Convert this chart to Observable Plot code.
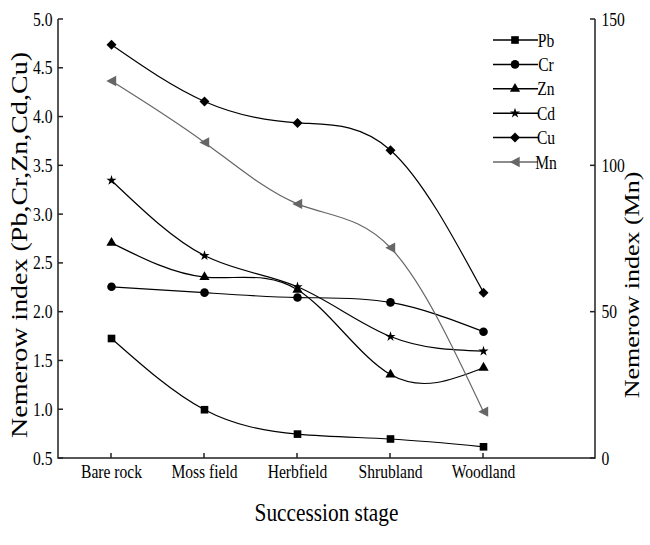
<!DOCTYPE html>
<html><head><meta charset="utf-8">
<script src="https://cdn.jsdelivr.net/npm/d3@7"></script>
<script src="https://cdn.jsdelivr.net/npm/@observablehq/plot@0.6"></script>
<style>body{margin:0;background:#fff}</style>
</head><body><div id="chart"></div>
<script>
// ---- data ----
const stages = ["Bare rock", "Moss field", "Herbfield", "Shrubland", "Woodland"];
const Pb = [1.73, 1.00, 0.75, 0.70, 0.62];
const Cr = [2.26, 2.20, 2.15, 2.10, 1.80];
const Zn = [2.71, 2.36, 2.23, 1.36, 1.43];
const Cd = [3.35, 2.58, 2.26, 1.75, 1.60];
const Cu = [4.74, 4.16, 3.94, 3.66, 2.20];
const Mn = [129, 108, 87, 72, 16];
const leftTicks = [0.5, 1.0, 1.5, 2.0, 2.5, 3.0, 3.5, 4.0, 4.5, 5.0];
const rightTicks = [0, 50, 100, 150];
const seriesNames = ["Pb", "Cr", "Zn", "Cd", "Cu", "Mn"];
const xTitle = "Succession stage";
const yTitle = "Nemerow index (Pb,Cr,Zn,Cd,Cu)";
const y2Title = "Nemerow index (Mn)";

// ---- setup ----
const W = 650, H = 545;
const mL = 58, mR = 55, mT = 19, mB = 87;
const SQ = 0.82; // horizontal squeeze of the original lettering
const font = "'Liberation Serif', 'Times New Roman', serif";
const yMin = leftTicks[0], yMax = leftTicks[leftTicks.length - 1];
const mnMin = rightTicks[0], mnMax = rightTicks[rightTicks.length - 1];
const toLeft = v => yMin + (v - mnMin) * (yMax - yMin) / (mnMax - mnMin);
const fromLeft = v => mnMin + (v - yMin) * (mnMax - mnMin) / (yMax - yMin);

const leftTri = {
  draw(ctx, size) {
    const r = Math.sqrt(size / Math.PI);
    ctx.moveTo(-r, 0);
    ctx.lineTo(r * 0.9, -r);
    ctx.lineTo(r * 0.9, r);
    ctx.closePath();
  }
};
const styles = {
  Pb: {symbol: d3.symbolSquare, r: 4.3, color: "#000"},
  Cr: {symbol: d3.symbolCircle, r: 4.3, color: "#000"},
  Zn: {symbol: d3.symbolTriangle, r: 3.8, color: "#000"},
  Cd: {symbol: d3.symbolStar, r: 3.2, color: "#000"},
  Cu: {symbol: d3.symbolDiamond2, r: 4.5, color: "#000"},
  Mn: {symbol: leftTri, r: 5.2, color: "#666"}
};
const valuesOf = {Pb, Cr, Zn, Cd, Cu, Mn: Mn.map(toLeft)};

const marks = [];
for (const name of seriesNames) {
  const rows = valuesOf[name].map((v, i) => ({stage: stages[i], v}));
  const s = styles[name];
  marks.push(Plot.line(rows, {x: "stage", y: "v", curve: "natural", stroke: s.color, strokeWidth: 1.2}));
  marks.push(Plot.dot(rows, {x: "stage", y: "v", symbol: s.symbol, r: s.r, fill: s.color, stroke: "none"}));
}
marks.push(Plot.axisX({tickSize: 0, tickPadding: 6, label: null, fill: "#000"}));
marks.push(Plot.axisY({ticks: leftTicks, tickFormat: d => d.toFixed(1), tickSize: 0, tickPadding: 6, label: null, fill: "#000"}));
marks.push(Plot.axisY(rightTicks.map(toLeft), {anchor: "right", tickFormat: d => String(Math.round(fromLeft(d))), tickSize: 0, tickPadding: 6, label: null, fill: "#000"}));

const plot = Plot.plot({
  width: W, height: H,
  marginLeft: mL, marginRight: mR, marginTop: mT, marginBottom: mB,
  style: {fontFamily: font, fontSize: "19px", background: "#fff", color: "#000"},
  x: {type: "point", domain: stages, padding: 0.55, insetRight: 59},
  y: {domain: [yMin, yMax]},
  marks
});
document.getElementById("chart").appendChild(plot);

// ---- axis lines, inward ticks, titles, legend ----
const svg = d3.select(plot);
const xs = plot.scale("x"), ys = plot.scale("y");
const x0 = mL, x1 = W - mR, y0 = H - mB, y1 = mT;
const g = svg.append("g").attr("stroke", "#222").attr("stroke-width", 1.5).attr("fill", "none");
g.append("path").attr("d", `M${x0},${y1}V${y0}H${x1}V${y1}`);
for (const st of stages) { const px = xs.apply(st); g.append("line").attr("x1", px).attr("x2", px).attr("y1", y0).attr("y2", y0 - 5); }
for (const t of leftTicks) { const py = ys.apply(t); g.append("line").attr("x1", x0).attr("x2", x0 + 5).attr("y1", py).attr("y2", py); }
for (const t of rightTicks) { const py = ys.apply(toLeft(t)); g.append("line").attr("x1", x1).attr("x2", x1 - 5).attr("y1", py).attr("y2", py); }

// squeeze horizontal texts produced by Plot
plot.querySelectorAll("text").forEach(t => {
  const L = t.getComputedTextLength();
  if (L > 0) { t.setAttribute("textLength", L * SQ); t.setAttribute("lengthAdjust", "spacingAndGlyphs"); }
});

const tg = svg.append("g").attr("font-family", font).attr("fill", "#000").attr("text-anchor", "middle");
const xt = tg.append("text").attr("font-size", 26).attr("x", (x0 + x1) / 2).attr("y", 521).text(xTitle);
const xl = xt.node().getComputedTextLength();
xt.attr("textLength", xl * SQ).attr("lengthAdjust", "spacingAndGlyphs");
tg.append("text").attr("font-size", 28).attr("transform", `translate(27,245) rotate(-90) scale(1,${SQ})`).text(yTitle);
tg.append("text").attr("font-size", 26).attr("transform", `translate(639,285) rotate(-90) scale(1,${SQ})`).text(y2Title);

const lg = svg.append("g").attr("font-family", font).attr("font-size", 19);
seriesNames.forEach((name, i) => {
  const s = styles[name];
  const ly = 40 + i * 24.4;
  lg.append("line").attr("x1", 493).attr("x2", 538).attr("y1", ly).attr("y2", ly).attr("stroke", s.color).attr("stroke-width", 1.5);
  lg.append("path").attr("transform", `translate(515,${ly})`).attr("d", d3.symbol(s.symbol, Math.PI * s.r * s.r)()).attr("fill", s.color);
  const t = lg.append("text").attr("x", 546).attr("y", ly).attr("dy", "0.35em").attr("fill", "#000").text(name);
  const L = t.node().getComputedTextLength();
  t.attr("textLength", L * SQ).attr("lengthAdjust", "spacingAndGlyphs");
});
</script>
</body></html>
